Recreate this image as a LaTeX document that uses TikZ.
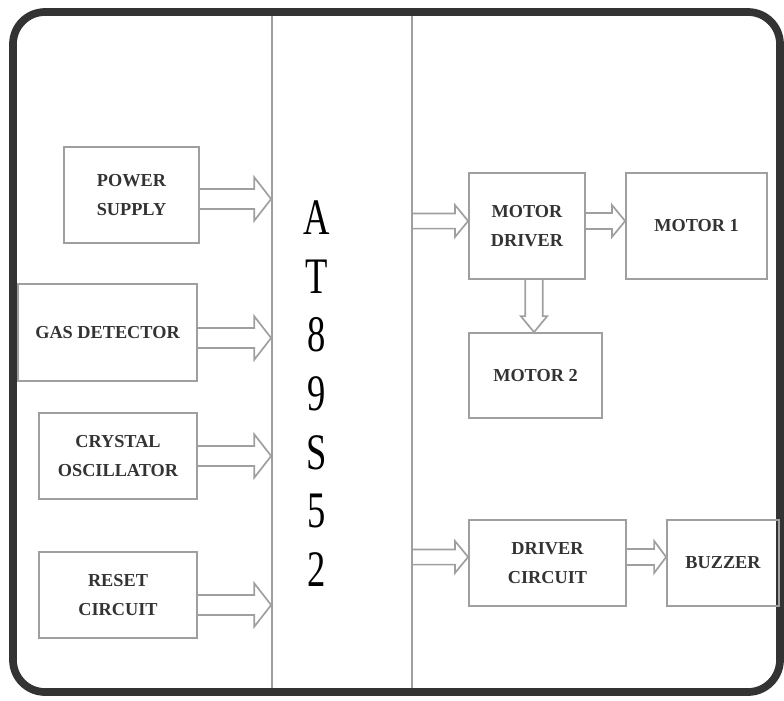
\documentclass[tikz,border=0pt]{standalone}
\usepackage{fontspec}
\setmainfont{Liberation Serif}
\usetikzlibrary{calc}

\tikzset{
  blk/.style={draw=gray!75, line width=1.2pt, font=\bfseries\fontsize{13}{21}\selectfont,
    text=black!80, align=center, inner sep=0pt},
  fat/.style={draw=gray!75, line width=1.2pt, line join=miter},
}
\newcommand{\fatarrow}[5]{%
  \coordinate (hb) at ($(#2)!#5!(#1)$);
  \draw[fat] ($(#1)!#3!90:(#2)$) -- ($(hb)!#3!-90:(#1)$) -- ($(hb)!#4!-90:(#1)$) -- (#2)
    -- ($(hb)!#4!90:(#1)$) -- ($(hb)!#3!90:(#1)$) -- ($(#1)!#3!-90:(#2)$);
}
\newcommand{\chipchar}[1]{\scalebox{1}[1.4]{#1}}

\begin{document}
\begin{tikzpicture}[x=0.025cm, y=-0.025cm]
\useasboundingbox (0,0) rectangle (784,700);

\node[blk, minimum width=3.5cm, minimum height=16.9cm] (chip) at (342,352) {};
\foreach \c [count=\i] in {A,T,8,9,S,5,2}
  \node[font=\fontsize{26}{26}\selectfont, text=black] (c\i) at (317,{218+(\i-1)*58.6}) {\chipchar{\c}};

\draw[line width=5.5pt, draw=black!80, rounded corners=0.8cm] (13,12) rectangle (780,692);

\node[blk, minimum width=3.375cm, minimum height=2.4cm] (pwr) at (131.5,195) {POWER\\SUPPLY};
\node[blk, minimum width=4.475cm, minimum height=2.425cm] (gas) at (107.5,332.5) {GAS DETECTOR};
\node[blk, minimum width=3.95cm, minimum height=2.15cm] (xtal) at (118,456) {CRYSTAL\\OSCILLATOR};
\node[blk, minimum width=3.95cm, minimum height=2.15cm] (rst) at (118,595) {RESET\\CIRCUIT};

\node[blk, minimum width=2.9cm, minimum height=2.65cm] (mdrv) at (527,226) {MOTOR\\DRIVER};
\node[blk, minimum width=3.525cm, minimum height=2.65cm] (mot1) at (696.5,226) {MOTOR 1};
\node[blk, minimum width=3.325cm, minimum height=2.125cm] (mot2) at (535.5,375.5) {MOTOR 2};
\node[blk, minimum width=3.925cm, minimum height=2.15cm] (drv) at (547.5,563) {DRIVER\\CIRCUIT};
\node[blk, minimum width=2.8cm, minimum height=2.15cm] (buzz) at (723,563) {BUZZER};

\foreach \n/\dy in {pwr/4, gas/5.5, xtal/0, rst/10} {
  \coordinate (t) at ($(\n.east)+(0,\dy)$);
  \coordinate (h) at (t -| chip.west);
  \fatarrow{t}{h}{0.25cm}{0.54cm}{0.42cm}
}

\coordinate (h) at ($(mdrv.west)+(0,-5)$);
\coordinate (t) at (h -| chip.east);
\fatarrow{t}{h}{0.19cm}{0.4cm}{0.33cm}
\coordinate (t) at ($(mdrv.east)+(0,-5)$);
\coordinate (h) at (t -| mot1.west);
\fatarrow{t}{h}{0.2cm}{0.4cm}{0.33cm}
\coordinate (t) at ($(mdrv.south)+(7,0)$);
\coordinate (h) at (t |- mot2.north);
\fatarrow{t}{h}{0.22cm}{0.33cm}{0.4cm}
\coordinate (h) at ($(drv.west)+(0,-6)$);
\coordinate (t) at (h -| chip.east);
\fatarrow{t}{h}{0.19cm}{0.4cm}{0.33cm}
\coordinate (t) at ($(drv.east)+(0,-6)$);
\coordinate (h) at (t -| buzz.west);
\fatarrow{t}{h}{0.2cm}{0.4cm}{0.3cm}
\end{tikzpicture}
\end{document}
